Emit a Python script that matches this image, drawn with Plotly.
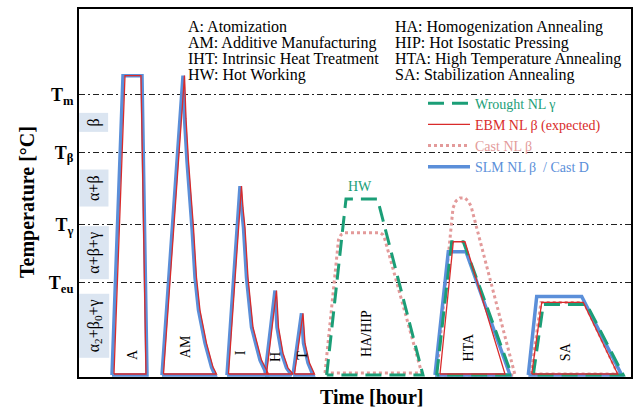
import plotly.graph_objects as go

# ---------------- data (schematic time / temperature units) ----------------
temp_levels = [284, 226, 153, 95]
temp_ticks = ["<b>T<sub>m</sub></b>", "<b>T<sub>β</sub></b>", "<b>T<sub>γ</sub></b>", "<b>T<sub>eu</sub></b>"]

# SLM NL beta / Cast D  (A, AM, I, H, T, HTA, SA)
slm_time = [
    [33, 44, 63, 68, 33],
    [83, 104, 105.5, 108, 113, 116, 119.5, 126, 132.5, 136, 83],
    [148, 161, 162.5, 164.5, 167.5, 172.5, 181, 188, 148],
    [186, 196, 198, 202.5, 207.5, 212.5, 186],
    [214, 222.5, 224.5, 229, 234, 214],
    [356, 369.3, 387, 431, 356],
    [449.3, 457.7, 502.7, 542.7, 449.3],
]
slm_temp = [
    [2, 303, 303, 2, 2],
    [2, 303, 260, 217, 150, 100, 67, 34, 10, 2, 2],
    [2, 192, 170, 150, 100, 50, 17, 2, 2],
    [2, 87, 50, 24, 9, 2, 2],
    [2, 64, 34, 14, 2, 2],
    [2, 126, 126, 2, 2],
    [2, 81, 81, 2, 2],
]

# EBM NL beta (expected)
ebm_time = [
    [35, 46, 62, 67, 35],
    [84.5, 105.5, 107, 109.5, 114.5, 117.5, 121, 127.5, 134, 137.5, 84.5],
    [149.5, 162.5, 164, 166, 169, 174, 182.5, 189.5, 149.5],
    [187.5, 197.5, 199.5, 204, 209, 214, 187.5],
    [215.5, 224, 226, 230.5, 235.5, 215.5],
    [361, 374.3, 386, 426, 361],
    [452.7, 462.7, 504.3, 538.7, 452.7],
]
ebm_temp = [
    [3, 303, 303, 3, 3],
    [3, 303, 260, 217, 150, 100, 67, 34, 10, 3, 3],
    [3, 192, 170, 150, 100, 50, 17, 3, 3],
    [3, 87, 50, 24, 9, 3, 3],
    [3, 64, 34, 14, 3, 3],
    [3, 136, 136, 3, 3],
    [3, 75, 75, 3, 3],
]

# Wrought NL gamma (HA/HIP, HTA, SA)
wrought_time = [
    [247.7, 267, 298.5, 344, 247.7],
    [357.7, 372.7, 384.3, 432.7, 357.7],
    [454.3, 464.3, 507.7, 544.3, 454.3],
]
wrought_temp = [
    [2, 179, 179, 2, 2],
    [2, 136, 136, 2, 2],
    [2, 73, 73, 2, 2],
]

# Cast NL beta (HA/HIP, HTA, SA)
cast_time = [
    [246, 258, 259.5, 262, 266, 301, 304, 306, 342.7, 246],
    [357.7, 372, 374, 377, 381, 386, 389, 392, 436, 357.7],
    [452, 462, 505, 539, 452],
]
cast_temp = [
    [4, 130, 138, 143, 145, 145, 143, 138, 4, 4],
    [2, 155, 170, 177, 180, 180, 177, 172, 2, 2],
    [3, 75, 75, 3, 3],
]

stage_labels = ["A", "AM", "I", "H", "T", "HA/HIP", "HTA", "SA"]
stage_label_time = [53, 106, 161, 196, 222.7, 287.7, 389.3, 486]
stage_label_temp = [22, 30, 24, 20, 22, 44, 30, 25]

phase_labels = ["β", "α+β", "α+β+γ", "α<sub>2</sub>+β<sub>0</sub>+γ"]
phase_label_temp = [256, 190, 125, 51]

abbrev_left = ["A: Atomization", "AM: Additive Manufacturing",
               "IHT: Intrinsic Heat Treatment", "HW: Hot Working"]
abbrev_right = ["HA: Homogenization Annealing", "HIP: Hot Isostatic Pressing",
                "HTA: High Temperature Annealing", "SA: Stabilization Annealing"]
abbrev_temp = [352, 336, 320, 304]

# ---------------- styling ----------------
SERIF = "Liberation Serif"
GREEN = "#1b9e77"
RED = "#d92b2b"
PINK = "#e39a9a"
BLUE = "#5b8fd9"


def join(segs):
    out = []
    for i, s in enumerate(segs):
        if i:
            out.append(None)
        out.extend(s)
    return out


fig = go.Figure()
fig.add_trace(go.Scatter(
    x=join(cast_time), y=join(cast_temp), mode="lines",
    line=dict(color=PINK, width=3, dash="dot"),
    name=f"<span style='color:{PINK}'>Cast NL β</span>", legendrank=3))
fig.add_trace(go.Scatter(
    x=join(slm_time), y=join(slm_temp), mode="lines",
    line=dict(color=BLUE, width=3.5),
    name=f"<span style='color:{BLUE}'>SLM NL β  / Cast D</span>", legendrank=4))
fig.add_trace(go.Scatter(
    x=join(wrought_time), y=join(wrought_temp), mode="lines",
    line=dict(color=GREEN, width=3, dash="16px,8px"),
    name=f"<span style='color:{GREEN}'>Wrought NL γ</span>", legendrank=1))
fig.add_trace(go.Scatter(
    x=join(ebm_time), y=join(ebm_temp), mode="lines",
    line=dict(color=RED, width=1.3),
    name=f"<span style='color:{RED}'>EBM NL β (expected)</span>", legendrank=2))

ann = []
for t, x, y in zip(stage_labels, stage_label_time, stage_label_temp):
    ann.append(dict(x=x, y=y, xref="x", yref="y", text=t, textangle=-90,
                    showarrow=False, font=dict(family=SERIF, size=14, color="black")))
ann.append(dict(x=281, y=192, xref="x", yref="y", text="HW", showarrow=False,
                font=dict(family=SERIF, size=14, color=GREEN)))
for t, y in zip(phase_labels, phase_label_temp):
    ann.append(dict(x=15, y=y, xref="x", yref="y", text=t, textangle=-90,
                    showarrow=False, bgcolor="#dbe5f1", borderpad=5,
                    font=dict(family=SERIF, size=16, color="black")))
for t, y in zip(abbrev_left, abbrev_temp):
    ann.append(dict(x=107, y=y, xref="x", yref="y", text=t, xanchor="left",
                    showarrow=False, font=dict(family=SERIF, size=16, color="black")))
for t, y in zip(abbrev_right, abbrev_temp):
    ann.append(dict(x=314, y=y, xref="x", yref="y", text=t, xanchor="left",
                    showarrow=False, font=dict(family=SERIF, size=16, color="black")))
ann.append(dict(x=(372 - 79) / 552, y=-20 / 370, xref="paper", yref="paper",
                text="<b>Time [hour]</b>", showarrow=False, xanchor="center", yanchor="middle",
                font=dict(family=SERIF, size=20, color="black")))
ann.append(dict(x=-(79 - 28) / 552, y=(377 - 201) / 370, xref="paper", yref="paper",
                text="<b>Temperature [°C]</b>", showarrow=False, textangle=-90,
                xanchor="center", yanchor="middle",
                font=dict(family=SERIF, size=20, color="black")))

fig.update_layout(
    width=640, height=411,
    margin=dict(l=79, r=9, t=7, b=34),
    paper_bgcolor="white", plot_bgcolor="white",
    showlegend=True,
    legend=dict(x=(423 - 79) / 552, y=(377 - 86) / 370, xanchor="left", yanchor="top",
                bgcolor="rgba(0,0,0,0)", font=dict(family=SERIF, size=14),
                itemwidth=42, tracegroupgap=0),
    annotations=ann,
)
fig.update_xaxes(range=[0, 552], showticklabels=False, ticks="", showgrid=False,
                 zeroline=False, showline=True, mirror=True, linecolor="black", linewidth=2)
fig.update_yaxes(range=[0, 370], tickvals=temp_levels, ticktext=temp_ticks, ticks="",
                 tickfont=dict(family=SERIF, size=18, color="black"),
                 showgrid=True, gridcolor="#222", gridwidth=1, griddash="6px,3px,2px,3px",
                 zeroline=False, showline=True, mirror=True, linecolor="black", linewidth=2)

fig.write_html("out.html", config={"displayModeBar": False},
               post_script="document.body.style.margin='0';document.body.style.overflow='hidden';")
